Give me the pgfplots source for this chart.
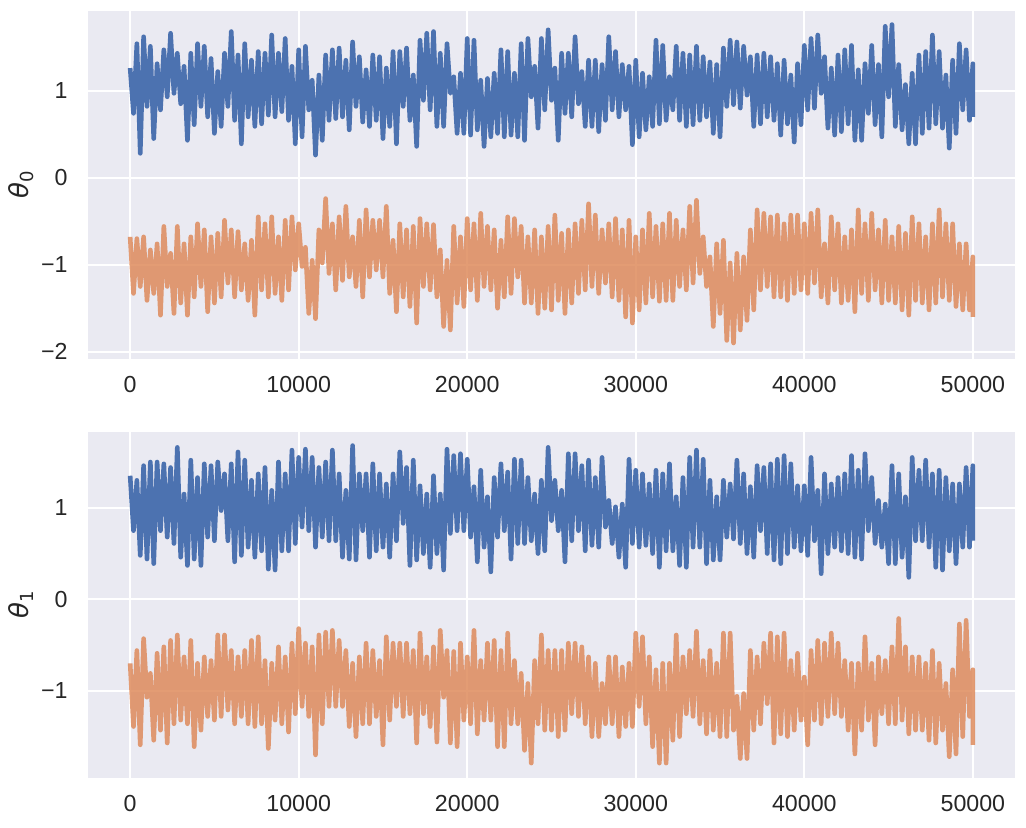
\documentclass[border=0pt]{standalone}
\usepackage{fontspec}
\setmainfont{Liberation Sans}
\newfontfamily\djv{DejaVu Sans}
\usepackage{pgfplots}
\pgfplotsset{compat=1.18}

\definecolor{sbblue}{HTML}{4C72B0}
\definecolor{sborange}{HTML}{DD8452}
\definecolor{sbbg}{HTML}{EAEAF2}
\definecolor{sbtext}{gray}{0.15}

\pgfplotsset{
  trace/.style={
    width=463.5pt, scale only axis,
    xmin=-2500, xmax=52500,
    xtick={0,10000,20000,30000,40000,50000},
    xticklabels={0,10000,20000,30000,40000,50000},
    scaled x ticks=false,
    grid=major,
    major grid style={white, line width=1.05pt},
    axis line style={draw=none},
    major tick length=0pt,
    axis background/.style={fill=sbbg},
    tick label style={font=\fontsize{11.6}{13}\selectfont, text=sbtext},
    xticklabel style={anchor=north, inner sep=0pt, yshift=-8.6pt},
    yticklabel style={anchor=east, inner sep=0pt, xshift=-10pt},
    every axis y label/.style={at={(rel axis cs:0,0.5)}, anchor=center,
      rotate=90, yshift=33.5pt, text=sbtext,
      font=\fontsize{13}{14}\selectfont},
  },
  bl/.style={sbblue, line width=2.3pt, line join=round},
  or/.style={sborange, draw opacity=0.8, line width=2.3pt, line join=round},
}

\begin{document}
\begin{tikzpicture}
\useasboundingbox (-44pt,-234pt) rectangle (469pt,179.5pt);

% theta_0
\begin{axis}[trace, height=174pt,
  ymin=-2.084, ymax=1.916,
  ytick={-2,-1,0,1}, yticklabels={−2,−1,0,1},
  ylabel={{\djv\itshape θ}\raisebox{-0.4ex}{\djv\fontsize{9}{9}\selectfont 0}}]
\addplot[bl] coordinates {
(0,1.26)(200,0.74)(400,1.54)(600,0.28)(800,1.62)(1000,0.82)(1200,1.51)(1400,0.45)
(1600,1.31)(1800,0.78)(2000,1.47)(2200,0.93)(2400,1.66)(2600,0.97)(2800,1.43)(3000,0.85)
(3200,1.28)(3400,0.43)(3600,1.43)(3800,0.61)(4000,1.54)(4200,0.82)(4400,1.51)(4600,0.70)
(4800,1.37)(5000,0.51)(5200,1.22)(5400,0.59)(5600,1.43)(5800,0.82)(6000,1.68)(6200,0.66)
(6400,1.41)(6600,0.39)(6800,1.54)(7000,0.70)(7200,1.35)(7400,0.59)(7600,1.45)(7800,0.62)
(8000,1.43)(8200,0.72)(8400,1.64)(8600,0.70)(8800,1.43)(9000,0.76)(9200,1.60)(9400,0.66)
(9600,1.28)(9800,0.39)(10000,1.47)(10200,0.47)(10400,1.51)(10600,0.78)(10800,1.12)(11000,0.26)
(11200,1.18)(11400,0.43)(11600,1.41)(11800,0.66)(12000,1.47)(12200,0.68)(12400,1.49)(12600,0.70)
(12800,1.35)(13000,0.55)(13200,1.56)(13400,0.82)(13600,1.39)(13800,0.64)(14000,1.24)(14200,0.59)
(14400,1.41)(14600,0.66)(14800,1.39)(15000,0.45)(15200,1.26)(15400,0.59)(15600,1.45)(15800,0.39)
(16000,1.45)(16200,0.82)(16400,1.49)(16600,0.66)(16800,1.18)(17000,0.36)(17200,1.58)(17400,0.89)
(17600,1.66)(17800,0.78)(18000,1.68)(18200,0.59)(18400,1.43)(18600,0.59)(18800,1.54)(19000,0.97)
(19200,1.16)(19400,0.51)(19600,1.20)(19800,0.51)(20000,1.60)(20200,0.49)(20400,1.58)(20600,0.55)
(20800,1.12)(21000,0.36)(21200,1.14)(21400,0.47)(21600,1.20)(21800,0.51)(22000,1.47)(22200,0.47)
(22400,1.45)(22600,0.49)(22800,1.20)(23000,0.47)(23200,1.54)(23400,0.43)(23600,1.60)(23800,0.93)
(24000,1.28)(24200,0.57)(24400,1.60)(24600,0.78)(24800,1.70)(25000,0.89)(25200,1.26)(25400,0.43)
(25600,1.43)(25800,0.74)(26000,1.43)(26200,0.70)(26400,1.62)(26600,0.85)(26800,1.22)(27000,0.59)
(27200,1.35)(27400,0.59)(27600,1.35)(27800,0.53)(28000,1.30)(28200,0.66)(28400,1.62)(28600,0.78)
(28800,1.45)(29000,0.70)(29200,1.30)(29400,0.78)(29600,1.28)(29800,0.38)(30000,1.35)(30200,0.47)
(30400,1.20)(30600,0.55)(30800,1.16)(31000,0.59)(31200,1.58)(31400,0.62)(31600,1.52)(31800,0.66)
(32000,1.16)(32200,0.78)(32400,1.51)(32600,0.66)(32800,1.43)(33000,0.59)(33200,1.41)(33400,0.61)
(33600,1.51)(33800,0.66)(34000,1.39)(34200,0.70)(34400,1.33)(34600,0.51)(34800,1.30)(35000,0.47)
(35200,1.49)(35400,0.82)(35600,1.58)(35800,0.84)(36000,1.56)(36200,0.80)(36400,1.51)(36600,0.95)
(36800,1.39)(37000,0.59)(37200,1.41)(37400,0.62)(37600,1.43)(37800,0.70)(38000,1.39)(38200,0.66)
(38400,1.31)(38600,0.49)(38800,1.35)(39000,0.62)(39200,1.18)(39400,0.41)(39600,1.31)(39800,0.61)
(40000,1.52)(40200,0.78)(40400,1.60)(40600,0.80)(40800,1.64)(41000,0.97)(41200,1.39)(41400,0.57)
(41600,1.26)(41800,0.49)(42000,1.41)(42200,0.53)(42400,1.47)(42600,0.62)(42800,1.52)(43000,0.43)
(43200,1.24)(43400,0.43)(43600,1.31)(43800,0.74)(44000,1.52)(44200,0.61)(44400,1.30)(44600,0.47)
(44800,1.74)(45000,0.93)(45200,1.76)(45400,0.59)(45600,1.30)(45800,0.55)(46000,1.07)(46200,0.39)
(46400,1.20)(46600,0.39)(46800,1.41)(47000,0.51)(47200,1.45)(47400,0.57)(47600,1.64)(47800,0.62)
(48000,1.45)(48200,0.57)(48400,1.18)(48600,0.34)(48800,1.35)(49000,0.51)(49200,1.54)(49400,0.78)
(49600,1.47)(49800,0.66)(50000,1.31)(50000,0.70)
};
\addplot[or] coordinates {
(0,-0.68)(200,-1.33)(400,-0.70)(600,-1.25)(800,-0.68)(1000,-1.41)(1200,-0.83)(1400,-1.33)
(1600,-0.76)(1800,-1.58)(2000,-0.56)(2200,-1.25)(2400,-0.87)(2600,-1.56)(2800,-0.56)(3000,-1.44)
(3200,-0.76)(3400,-1.58)(3600,-0.68)(3800,-1.37)(4000,-0.53)(4200,-1.25)(4400,-0.60)(4600,-1.54)
(4800,-0.68)(5000,-1.44)(5200,-0.64)(5400,-1.37)(5600,-0.49)(5800,-1.21)(6000,-0.60)(6200,-1.37)
(6400,-0.62)(6600,-1.29)(6800,-0.76)(7000,-1.41)(7200,-0.72)(7400,-1.58)(7600,-0.45)(7800,-1.29)
(8000,-0.53)(8200,-1.37)(8400,-0.45)(8600,-1.33)(8800,-0.68)(9000,-1.41)(9200,-0.49)(9400,-1.29)
(9600,-0.45)(9800,-1.06)(10000,-0.53)(10200,-1.02)(10400,-0.80)(10600,-1.56)(10800,-0.95)(11000,-1.62)
(11200,-0.60)(11400,-0.98)(11600,-0.24)(11800,-1.10)(12000,-0.53)(12200,-1.29)(12400,-0.45)(12600,-1.18)
(12800,-0.33)(13000,-1.14)(13200,-0.68)(13400,-1.25)(13600,-0.49)(13800,-1.37)(14000,-0.37)(14200,-1.14)
(14400,-0.49)(14600,-1.06)(14800,-0.49)(15000,-1.14)(15200,-0.33)(15400,-1.33)(15600,-0.72)(15800,-1.54)
(16000,-0.53)(16200,-1.37)(16400,-0.60)(16600,-1.48)(16800,-0.56)(17000,-1.67)(17200,-0.47)(17400,-1.25)
(17600,-0.53)(17800,-1.29)(18000,-0.54)(18200,-1.37)(18400,-0.83)(18600,-1.71)(18800,-0.95)(19000,-1.75)
(19200,-0.56)(19400,-1.44)(19600,-0.68)(19800,-1.48)(20000,-0.47)(20200,-1.29)(20400,-0.53)(20600,-1.41)
(20800,-0.41)(21000,-1.25)(21200,-0.56)(21400,-1.29)(21600,-0.60)(21800,-1.50)(22000,-0.72)(22200,-1.37)
(22400,-0.45)(22600,-1.33)(22800,-0.47)(23000,-1.14)(23200,-0.56)(23400,-1.44)(23600,-0.68)(23800,-1.44)
(24000,-0.60)(24200,-1.56)(24400,-0.68)(24600,-1.50)(24800,-0.56)(25000,-1.52)(25200,-0.43)(25400,-1.41)
(25600,-0.64)(25800,-1.56)(26000,-0.60)(26200,-1.44)(26400,-0.53)(26600,-1.33)(26800,-0.49)(27000,-1.29)
(27200,-0.30)(27400,-1.25)(27600,-0.43)(27800,-1.33)(28000,-0.60)(28200,-1.21)(28400,-0.53)(28600,-1.37)
(28800,-0.47)(29000,-1.41)(29200,-0.60)(29400,-1.60)(29600,-0.49)(29800,-1.67)(30000,-0.68)(30200,-1.52)
(30400,-0.60)(30600,-1.44)(30800,-0.41)(31000,-1.37)(31200,-0.56)(31400,-1.42)(31600,-0.53)(31800,-1.41)
(32000,-0.41)(32200,-1.41)(32400,-0.49)(32600,-1.25)(32800,-0.60)(33000,-1.29)(33200,-0.33)(33400,-1.21)
(33600,-0.26)(33800,-1.10)(34000,-0.68)(34200,-1.25)(34400,-0.91)(34600,-1.71)(34800,-0.76)(35000,-1.56)
(35200,-0.72)(35400,-1.87)(35600,-0.98)(35800,-1.90)(36000,-0.87)(36200,-1.75)(36400,-0.91)(36600,-1.64)
(36800,-0.60)(37000,-1.52)(37200,-0.37)(37400,-1.29)(37600,-0.41)(37800,-1.25)(38000,-0.45)(38200,-1.37)
(38400,-0.43)(38600,-1.37)(38800,-0.53)(39000,-1.41)(39200,-0.43)(39400,-1.33)(39600,-0.43)(39800,-1.29)
(40000,-0.53)(40200,-1.33)(40400,-0.41)(40600,-1.21)(40800,-0.37)(41000,-1.37)(41200,-0.76)(41400,-1.44)
(41600,-0.45)(41800,-1.29)(42000,-0.53)(42200,-1.44)(42400,-0.68)(42600,-1.41)(42800,-0.60)(43000,-1.54)
(43200,-0.37)(43400,-1.33)(43600,-0.53)(43800,-1.41)(44000,-0.41)(44200,-1.29)(44400,-0.60)(44600,-1.44)
(44800,-0.49)(45000,-1.41)(45200,-0.68)(45400,-1.44)(45600,-0.56)(45800,-1.52)(46000,-0.64)(46200,-1.58)
(46400,-0.45)(46600,-1.41)(46800,-0.53)(47000,-1.44)(47200,-0.68)(47400,-1.52)(47600,-0.53)(47800,-1.44)
(48000,-0.37)(48200,-1.37)(48400,-0.53)(48600,-1.41)(48800,-0.53)(49000,-1.48)(49200,-0.76)(49400,-1.52)
(49600,-0.76)(49800,-1.52)(50000,-0.91)(50000,-1.60)
};
\end{axis}

% theta_1
\begin{axis}[trace, height=173pt, at={(0,-36.5pt)}, anchor=north west,
  ymin=-1.953, ymax=1.828,
  ytick={-1,0,1}, yticklabels={−1,0,1},
  ylabel={{\djv\itshape θ}\raisebox{-0.4ex}{\djv\fontsize{9}{9}\selectfont 1}}]
\addplot[bl] coordinates {
(0,1.35)(200,0.75)(400,1.30)(600,0.48)(800,1.46)(1000,0.44)(1200,1.50)(1400,0.39)
(1600,1.50)(1800,0.75)(2000,1.48)(2200,0.68)(2400,1.44)(2600,0.61)(2800,1.66)(3000,0.46)
(3200,1.15)(3400,0.37)(3600,1.52)(3800,0.44)(4000,1.33)(4200,0.37)(4400,1.48)(4600,0.68)
(4800,1.46)(5000,0.64)(5200,1.50)(5400,0.97)(5600,1.37)(5800,0.64)(6000,1.48)(6200,0.41)
(6400,1.61)(6600,0.48)(6800,1.52)(7000,0.57)(7200,1.30)(7400,0.46)(7600,1.37)(7800,0.53)
(8000,1.44)(8200,0.33)(8400,1.19)(8600,0.32)(8800,1.50)(9000,0.53)(9200,1.37)(9400,0.53)
(9600,1.63)(9800,0.61)(10000,1.55)(10200,0.79)(10400,1.64)(10600,0.75)(10800,1.55)(11000,0.57)
(11200,1.44)(11400,0.68)(11600,1.50)(11800,0.64)(12000,1.63)(12200,0.64)(12400,1.37)(12600,0.46)
(12800,1.19)(13000,0.44)(13200,1.68)(13400,0.43)(13600,1.37)(13800,0.75)(14000,1.37)(14200,0.46)
(14400,1.48)(14600,0.53)(14800,1.37)(15000,0.57)(15200,1.26)(15400,0.46)(15600,1.37)(15800,0.64)
(16000,1.61)(16200,0.83)(16400,1.44)(16600,0.37)(16800,1.52)(17000,0.43)(17200,1.24)(17400,0.50)
(17600,1.15)(17800,0.35)(18000,1.35)(18200,0.50)(18400,1.15)(18600,0.32)(18800,1.64)(19000,0.72)
(19200,1.57)(19400,0.75)(19600,1.59)(19800,0.75)(20000,1.53)(20200,0.68)(20400,1.23)(20600,0.41)
(20800,1.41)(21000,0.57)(21200,1.12)(21400,0.30)(21600,1.33)(21800,0.68)(22000,1.48)(22200,0.75)
(22400,1.39)(22600,0.44)(22800,1.53)(23000,0.61)(23200,1.52)(23400,0.61)(23600,1.33)(23800,0.64)
(24000,1.15)(24200,0.50)(24400,1.30)(24600,0.53)(24800,1.66)(25000,0.86)(25200,1.30)(25400,0.75)
(25600,1.19)(25800,0.41)(26000,1.59)(26200,0.64)(26400,1.59)(26600,0.75)(26800,1.46)(27000,0.53)
(27200,1.52)(27400,0.59)(27600,1.33)(27800,0.57)(28000,1.55)(28200,0.79)(28400,1.08)(28600,0.61)
(28800,1.01)(29000,0.46)(29200,1.04)(29400,0.35)(29600,1.53)(29800,0.61)(30000,1.41)(30200,0.57)
(30400,1.37)(30600,0.59)(30800,1.26)(31000,0.50)(31200,1.41)(31400,0.35)(31600,1.37)(31800,0.53)
(32000,1.48)(32200,0.53)(32400,1.12)(32600,0.37)(32800,1.33)(33000,0.35)(33200,1.55)(33400,0.57)
(33600,1.63)(33800,0.57)(34000,1.53)(34200,0.39)(34400,1.30)(34600,0.43)(34800,1.12)(35000,0.43)
(35200,1.30)(35400,0.68)(35600,1.26)(35800,0.66)(36000,1.52)(36200,0.61)(36400,1.37)(36600,0.50)
(36800,1.23)(37000,0.46)(37200,1.46)(37400,0.75)(37600,1.44)(37800,0.50)(38000,1.48)(38200,0.43)
(38400,1.53)(38600,0.39)(38800,1.57)(39000,0.50)(39200,1.48)(39400,0.57)(39600,1.24)(39800,0.53)
(40000,1.24)(40200,0.48)(40400,1.55)(40600,0.64)(40800,1.19)(41000,0.28)(41200,1.37)(41400,0.50)
(41600,1.26)(41800,0.57)(42000,1.33)(42200,0.53)(42400,1.37)(42600,0.50)(42800,1.57)(43000,0.46)
(43200,1.41)(43400,0.44)(43600,1.59)(43800,0.75)(44000,1.33)(44200,0.61)(44400,1.08)(44600,0.57)
(44800,1.04)(45000,0.39)(45200,1.46)(45400,0.39)(45600,1.37)(45800,0.46)(46000,1.12)(46200,0.24)
(46400,1.55)(46600,0.64)(46800,1.41)(47000,0.64)(47200,1.52)(47400,0.57)(47600,1.37)(47800,0.35)
(48000,1.41)(48200,0.32)(48400,1.33)(48600,0.53)(48800,1.26)(49000,0.39)(49200,1.26)(49400,0.57)
(49600,1.44)(49800,0.57)(50000,1.46)(50000,0.64)
};
\addplot[or] coordinates {
(0,-0.70)(200,-1.39)(400,-0.56)(600,-1.59)(800,-0.43)(1000,-1.07)(1200,-0.81)(1400,-1.54)
(1600,-0.59)(1800,-1.43)(2000,-0.52)(2200,-1.57)(2400,-0.45)(2600,-1.36)(2800,-0.39)(3000,-1.32)
(3200,-0.63)(3400,-1.36)(3600,-0.45)(3800,-1.61)(4000,-0.70)(4200,-1.43)(4400,-0.63)(4600,-1.28)
(4800,-0.67)(5000,-1.32)(5200,-0.39)(5400,-1.28)(5600,-0.39)(5800,-1.21)(6000,-0.56)(6200,-1.36)
(6400,-0.63)(6600,-1.28)(6800,-0.56)(7000,-1.36)(7200,-0.45)(7400,-1.39)(7600,-0.41)(7800,-1.36)
(8000,-0.67)(8200,-1.63)(8400,-0.70)(8600,-1.32)(8800,-0.52)(9000,-1.36)(9200,-0.63)(9400,-1.45)
(9600,-0.48)(9800,-1.25)(10000,-0.32)(10200,-1.17)(10400,-0.48)(10600,-1.28)(10800,-0.52)(11000,-1.70)
(11200,-0.39)(11400,-1.36)(11600,-0.36)(11800,-1.17)(12000,-0.34)(12200,-1.17)(12400,-0.45)(12600,-1.17)
(12800,-0.56)(13000,-1.39)(13200,-0.70)(13400,-1.50)(13600,-0.63)(13800,-1.36)(14000,-0.48)(14200,-1.36)
(14400,-0.56)(14600,-1.28)(14800,-0.67)(15000,-1.59)(15200,-0.41)(15400,-1.32)(15600,-0.48)(15800,-1.17)
(16000,-0.48)(16200,-1.28)(16400,-0.48)(16600,-1.25)(16800,-0.56)(17000,-1.57)(17200,-0.37)(17400,-1.25)
(17600,-0.63)(17800,-1.39)(18000,-0.52)(18200,-1.56)(18400,-0.34)(18600,-1.07)(18800,-0.56)(19000,-1.57)
(19200,-0.57)(19400,-1.61)(19600,-0.48)(19800,-1.32)(20000,-0.63)(20200,-1.36)(20400,-0.34)(20600,-1.47)
(20800,-0.67)(21000,-1.32)(21200,-0.48)(21400,-1.32)(21600,-0.45)(21800,-1.61)(22000,-0.56)(22200,-1.61)
(22400,-0.37)(22600,-1.36)(22800,-0.67)(23000,-1.36)(23200,-0.81)(23400,-1.65)(23600,-0.92)(23800,-1.79)
(24000,-0.67)(24200,-1.36)(24400,-0.39)(24600,-1.43)(24800,-0.56)(25000,-1.43)(25200,-0.56)(25400,-1.50)
(25600,-0.56)(25800,-1.43)(26000,-0.48)(26200,-1.25)(26400,-0.48)(26600,-1.28)(26800,-0.52)(27000,-1.36)
(27200,-0.63)(27400,-1.50)(27600,-0.70)(27800,-1.50)(28000,-0.92)(28200,-1.36)(28400,-0.63)(28600,-1.36)
(28800,-0.63)(29000,-1.50)(29200,-0.74)(29400,-1.39)(29600,-0.70)(29800,-1.39)(30000,-0.37)(30200,-1.17)
(30400,-0.41)(30600,-1.36)(30800,-0.63)(31000,-1.61)(31200,-0.77)(31400,-1.79)(31600,-0.70)(31800,-1.79)
(32000,-0.70)(32200,-1.54)(32400,-0.39)(32600,-1.50)(32800,-0.63)(33000,-1.25)(33200,-0.56)(33400,-1.28)
(33600,-0.35)(33800,-1.36)(34000,-0.67)(34200,-1.47)(34400,-0.56)(34600,-1.43)(34800,-0.70)(35000,-1.50)
(35200,-0.37)(35400,-1.50)(35600,-0.37)(35800,-1.43)(36000,-1.06)(36200,-1.74)(36400,-1.03)(36600,-1.74)
(36800,-0.56)(37000,-1.43)(37200,-0.63)(37400,-1.36)(37600,-0.48)(37800,-1.14)(38000,-0.37)(38200,-1.57)
(38400,-0.41)(38600,-1.47)(38800,-0.37)(39000,-1.50)(39200,-0.67)(39400,-1.43)(39600,-0.59)(39800,-1.32)
(40000,-0.85)(40200,-1.59)(40400,-0.56)(40600,-1.32)(40800,-0.45)(41000,-1.36)(41200,-0.48)(41400,-1.28)
(41600,-0.37)(41800,-1.25)(42000,-0.48)(42200,-1.28)(42400,-0.67)(42600,-1.43)(42800,-0.70)(43000,-1.69)
(43200,-0.70)(43400,-1.43)(43600,-0.41)(43800,-1.32)(44000,-0.70)(44200,-1.59)(44400,-0.63)(44600,-1.25)
(44800,-0.67)(45000,-1.36)(45200,-0.52)(45400,-1.36)(45600,-0.21)(45800,-1.32)(46000,-0.52)(46200,-1.47)
(46400,-0.63)(46600,-1.43)(46800,-0.63)(47000,-1.43)(47200,-0.70)(47400,-1.54)(47600,-0.56)(47800,-1.57)
(48000,-0.70)(48200,-1.43)(48400,-0.92)(48600,-1.72)(48800,-0.77)(49000,-1.69)(49200,-0.27)(49400,-1.50)
(49600,-0.23)(49800,-1.28)(50000,-0.77)(50000,-1.59)
};
\end{axis}
\end{tikzpicture}
\end{document}
